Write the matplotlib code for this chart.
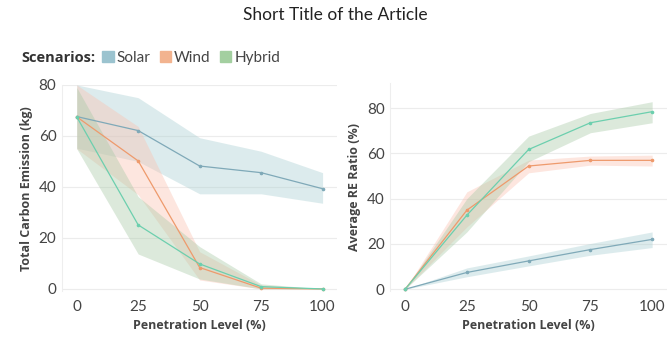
import numpy as np
import matplotlib
matplotlib.use("Agg")
import matplotlib.pyplot as plt
from matplotlib.patches import Patch
from matplotlib.offsetbox import HPacker

plt.rcParams['font.family'] = ['Lato', 'DejaVu Sans']

levels = [0, 25, 50, 75, 100]
scenarios = ['Solar', 'Wind', 'Hybrid']

# Total carbon emission (kg): mean, lower, upper
emis_solar = [67.6, 62.1, 48.2, 45.6, 39.3]
emis_solar_lo = [55.2, 50.0, 37.3, 37.3, 33.6]
emis_solar_hi = [80.0, 75.0, 59.3, 54.0, 45.6]
emis_wind = [67.5, 50.2, 8.4, 0.3, 0.0]
emis_wind_lo = [55.0, 36.9, 3.5, 0.0, 0.0]
emis_wind_hi = [80.0, 63.7, 14.6, 1.5, 0.0]
emis_hybrid = [67.5, 25.1, 9.8, 0.9, 0.0]
emis_hybrid_lo = [55.0, 13.7, 3.9, 0.0, 0.0]
emis_hybrid_hi = [79.0, 36.2, 16.6, 2.0, 0.0]

# Average RE ratio (%)
re_solar = [0.0, 7.4, 12.5, 17.5, 22.0]
re_solar_lo = [0.0, 5.5, 10.3, 15.0, 18.4]
re_solar_hi = [0.0, 9.4, 14.7, 20.2, 25.3]
re_wind = [0.0, 34.9, 54.4, 56.9, 56.9]
re_wind_lo = [0.0, 27.5, 51.4, 54.8, 54.4]
re_wind_hi = [0.0, 43.0, 57.0, 58.8, 59.2]
re_hybrid = [0.0, 32.7, 61.7, 73.5, 78.4]
re_hybrid_lo = [0.0, 25.3, 56.3, 69.1, 73.5]
re_hybrid_hi = [0.0, 40.0, 67.6, 77.6, 82.8]

line_colors = {'Solar': '#7fa9b8', 'Wind': '#ee9a6c', 'Hybrid': '#6ccfae'}
band_colors = {'Solar': '#a9cfd2', 'Wind': '#fbc1b0', 'Hybrid': '#a8caa6'}
legend_colors = {'Solar': '#9bc3cf', 'Wind': '#f2b38f', 'Hybrid': '#a3cfa0'}

emis = {'Solar': (emis_solar, emis_solar_lo, emis_solar_hi),
        'Wind': (emis_wind, emis_wind_lo, emis_wind_hi),
        'Hybrid': (emis_hybrid, emis_hybrid_lo, emis_hybrid_hi)}
re = {'Solar': (re_solar, re_solar_lo, re_solar_hi),
      'Wind': (re_wind, re_wind_lo, re_wind_hi),
      'Hybrid': (re_hybrid, re_hybrid_lo, re_hybrid_hi)}

fig = plt.figure(figsize=(6.7, 3.63), dpi=100)
ax1 = fig.add_axes([0.0925, 0.197, 0.411, 0.569])
ax2 = fig.add_axes([0.5825, 0.197, 0.413, 0.574])

label_font = ['Open Sans', 'DejaVu Sans']


def draw(ax, data, ylabel, ylim, yticks):
    for s in scenarios:
        m, lo, hi = data[s]
        ax.fill_between(levels, lo, hi, color=band_colors[s], alpha=0.4, lw=0)
        ax.plot(levels, m, color=line_colors[s], lw=0.9, marker='o', ms=1.6)
    ax.set_xlim(-6, 106)
    ax.set_ylim(*ylim)
    ax.set_xticks(levels)
    ax.set_yticks(yticks)
    ax.grid(axis='y', color='#ececec', lw=0.8)
    ax.set_axisbelow(True)
    for sp in ['top', 'right', 'bottom']:
        ax.spines[sp].set_visible(False)
    ax.spines['left'].set_color('#eeeeee')
    ax.tick_params(axis='both', length=0, labelsize=11, colors='#444444', pad=6)
    ax.tick_params(axis='y', pad=4)
    ax.set_xlabel('Penetration Level (%)', fontsize=9, fontweight='bold',
                  color='#444444', family=label_font, labelpad=4)
    ax.set_ylabel(ylabel, fontsize=9, fontweight='bold',
                  color='#444444', family=label_font, labelpad=4)


draw(ax1, emis, 'Total Carbon Emission (kg)', (-1, 80), [0, 20, 40, 60, 80])
draw(ax2, re, 'Average RE Ratio (%)', (-1, 91), [0, 20, 40, 60, 80])

fig.text(0.5, 0.96, 'Short Title of the Article', ha='center', va='center',
         fontsize=12.5, color='#222222')

handles = [Patch(color=legend_colors[s], label=s) for s in scenarios]
leg = fig.legend(handles=handles, loc='center left', bbox_to_anchor=(0.02, 0.84),
                 ncol=3, frameon=False, fontsize=11, handlelength=0.75,
                 handleheight=0.75, handletextpad=0.2, columnspacing=0.6,
                 title='Scenarios:', labelcolor='#444444', borderpad=0)
title = leg.get_title()
title.set_fontweight('bold')
title.set_fontsize(10.5)
title.set_color('#333333')
title.set_family(label_font)
# put the title inline with the entries
box = leg._legend_box
box._children = [HPacker(children=[leg._legend_title_box, leg._legend_handle_box],
                         pad=0, sep=5, align='center')]

fig.savefig('out.png', dpi=100)
